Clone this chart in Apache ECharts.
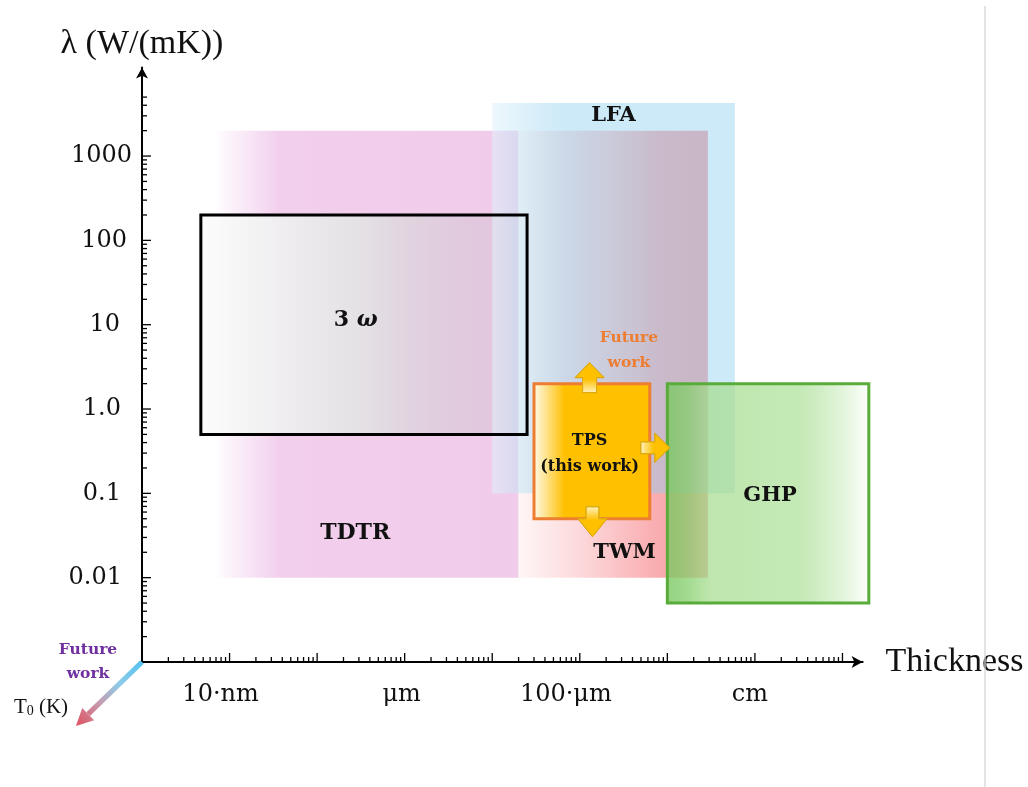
<!DOCTYPE html>
<html><head><meta charset="utf-8">
<script src="https://cdn.jsdelivr.net/npm/echarts@6/dist/echarts.min.js"></script>
<style>html,body{margin:0;padding:0;background:#fff}#c{width:1028px;height:787px}</style>
</head><body><div id="c"></div>
<script>
// ---------- data ----------
const regionNames  = ['TDTR', '3ω', 'TWM', 'LFA', 'GHP', 'TPS'];
const thicknessMin = [6.5e-9, 4.7e-9, 2.0e-5, 1.0e-5, 1.0e-3, 3.0e-5];   // m
const thicknessMax = [2.0e-5, 2.5e-5, 2.9e-3, 5.9e-3, 0.2,    6.3e-4];   // m
const lambdaMin    = [0.01,   0.5,    0.01,   0.1,    0.005,  0.05];     // W/(mK)
const lambdaMax    = [2000,   200,    2000,   4250,   2.0,    2.0];      // W/(mK)

const xTickLabels = {'-8': '10·nm', '-6': 'μm', '-4': '100·μm', '-2': 'cm'};
const yTickLabels = {'3': '1000', '2': '100', '1': '10', '0': '1.0', '-1': '0.1', '-2': '0.01'};

const X_MIN = 1e-9, X_MAX = Math.pow(10, -0.77);
const Y_MIN = 1e-3, Y_MAX = Math.pow(10, 4.05);

// log-scale tick marks (decades and their 2..9 subdivisions)
const tickData = [];
for (let d = -9; d <= -2; d++) {
  for (let k = 1; k <= 9; k++) {
    if (d === -9 && k === 1) continue;
    tickData.push([k * Math.pow(10, d), Y_MIN, k === 1 ? 1 : 0, 0]);
  }
}
tickData.push([1e-1, Y_MIN, 1, 0]);
for (let d = -3; d <= 3; d++) {
  for (let k = 1; k <= 9; k++) {
    if (d === -3 && k === 1) continue;
    if (d === 3 && k > 5) continue;
    tickData.push([X_MIN, k * Math.pow(10, d), k === 1 ? 1 : 0, 1]);
  }
}

// ---------- styles ----------
const G = echarts.graphic.LinearGradient;
const BOLD = 'DejaVu Serif';
const styles = {
  'TDTR': {fill: new G(0,0,1,0,[{offset:0,color:'rgba(242,205,236,0)'},{offset:0.22,color:'rgba(242,207,237,1)'},{offset:1,color:'rgba(241,203,234,1)'}]),
           label: 'TDTR', fx: 0.465, fy: 0.90, size: 22},
  '3ω':   {fill: new G(0,0,1,0,[{offset:0,color:'rgba(252,252,252,0.98)'},{offset:0.5,color:'rgba(226,228,228,0.85)'},{offset:0.89,color:'rgba(200,190,200,0.35)'},{offset:1,color:'rgba(200,190,200,0.3)'}]),
           stroke: '#000', lineWidth: 3, label: '{n|3 }{w|ω}', fx: 0.475, fy: 0.48, size: 22},
  'TWM':  {fill: new G(0,0,1,0,[{offset:0,color:'#fff6f6'},{offset:0.35,color:'#fcd6d9'},{offset:0.75,color:'#f9abae'},{offset:1,color:'#f8a3a6'}]),
           label: 'TWM', fx: 0.56, fy: 0.944, size: 21},
  'LFA':  {fill: new G(0,0,1,0,[{offset:0,color:'rgba(225,243,250,0.55)'},{offset:0.3,color:'rgba(139,206,239,0.43)'},{offset:1,color:'rgba(139,206,239,0.43)'}]),
           label: 'LFA', fx: 0.5, fy: 0.031, size: 21},
  'GHP':  {fill: new G(0,0,1,0,[{offset:0,color:'rgba(120,200,95,0.8)'},{offset:0.1,color:'rgba(130,205,105,0.75)'},{offset:0.22,color:'rgba(165,220,140,0.7)'},{offset:0.65,color:'rgba(170,224,150,0.7)'},{offset:1,color:'rgba(255,255,255,0.95)'}]),
           stroke: '#5aac3a', lineWidth: 3, label: 'GHP', fx: 0.51, fy: 0.51, size: 21},
  'TPS':  {fill: new G(0,0,1,0,[{offset:0,color:'#fffcf0'},{offset:0.1,color:'#ffe69a'},{offset:0.27,color:'#ffc000'},{offset:1,color:'#ffc000'}]),
           stroke: '#ed7d31', lineWidth: 3, label: 'TPS\n(this work)', fx: 0.48, fy: 0.52, size: 16},
};
// draw order: [regionIndex, pass] pass 0 = fill(+stroke), pass 1 = stroke only
const drawOrder = [[0,0],[1,0],[2,0],[3,0],[1,1],[4,0],[5,0]];
const regionData = drawOrder.map(([i, p]) => [thicknessMin[i], thicknessMax[i], lambdaMin[i], lambdaMax[i], i, p]);

function arrowStyle(x, y, x2, y2) {
  return {
    fill: new G(x, y, x2, y2, [{offset:0,color:'#fff3c4'},{offset:0.45,color:'#ffc000'},{offset:1,color:'#ffc000'}]),
    stroke: '#dcaa10', lineWidth: 1
  };
}

function renderRegion(params, api) {
  const i = api.value(4), pass = api.value(5);
  const name = regionNames[i], st = styles[name];
  const p0 = api.coord([api.value(0), api.value(3)]);
  const p1 = api.coord([api.value(1), api.value(2)]);
  const x0 = p0[0], y0 = p0[1], x1 = p1[0], y1 = p1[1];
  const w = x1 - x0, h = y1 - y0;
  const children = [];
  const z = params.dataIndex * 10;
  if (pass === 0) {
    children.push({type: 'rect', z2: z, shape: {x: x0, y: y0, width: w, height: h},
      style: {fill: st.fill, stroke: (name === '3ω') ? null : (st.stroke || null), lineWidth: st.lineWidth || 0}});
  } else {
    children.push({type: 'rect', z2: z, shape: {x: x0, y: y0, width: w, height: h},
      style: {fill: null, stroke: st.stroke, lineWidth: st.lineWidth}});
  }
  if (pass === 0 && name !== '3ω' || pass === 1) {
    const tx = x0 + st.fx * w, ty = y0 + st.fy * h;
    const lt = {type: 'text', z2: 500, x: tx, y: ty, style: {
      text: st.label, fill: '#111', align: 'center', verticalAlign: 'middle',
      fontFamily: BOLD, fontWeight: 'bold', fontSize: st.size, lineHeight: name === 'TPS' ? 26 : st.size + 4,
      rich: {n: {fontFamily: BOLD, fontWeight: 'bold', fontSize: 22, fill: '#111'},
             w: {fontFamily: BOLD, fontWeight: 'bold', fontStyle: 'italic', fontSize: 22, fill: '#111'}}
    }};
    children.push(lt);
  }
  if (name === 'TPS') {
    // arrows to future work directions
    const cxu = x0 + 0.48 * w, cxd = x0 + 0.505 * w, cyr = y0 + 0.475 * h;
    children.push({type: 'polygon', z2: z + 5, shape: {points: [
      [cxu-7, y0+9], [cxu-7, y0-6], [cxu-14.5, y0-6], [cxu, y0-21], [cxu+14.5, y0-6], [cxu+7, y0-6], [cxu+7, y0+9]]},
      style: arrowStyle(0, 1, 0, 0)});
    children.push({type: 'polygon', z2: z + 5, shape: {points: [
      [cxd-6.5, y1-12], [cxd-6.5, y1], [cxd-14.5, y1], [cxd, y1+18], [cxd+14.5, y1], [cxd+6.5, y1], [cxd+6.5, y1-12]]},
      style: arrowStyle(0, 0, 0, 1)});
    children.push({type: 'polygon', z2: z + 5, shape: {points: [
      [x1-9, cyr-6], [x1+5, cyr-6], [x1+5, cyr-14.5], [x1+20, cyr], [x1+5, cyr+14.5], [x1+5, cyr+6], [x1-9, cyr+6]]},
      style: arrowStyle(0, 0, 1, 0)});
    children.push({type: 'text', z2: 500, x: x0 + 0.5 * w + 37, y: y0 - 33, style: {
      text: 'Future\nwork', fill: '#ed7d31', align: 'center', verticalAlign: 'middle',
      fontFamily: BOLD, fontWeight: 'bold', fontSize: 15.5, lineHeight: 25}});
  }
  return {type: 'group', children};
}

function renderTick(params, api) {
  const p = api.coord([api.value(0), api.value(1)]);
  const len = api.value(2) ? 9 : 5;
  const isY = api.value(3);
  const shape = isY ? {x1: p[0], y1: p[1], x2: p[0] + len, y2: p[1]}
                    : {x1: p[0], y1: p[1], x2: p[0], y2: p[1] - len};
  return {type: 'line', shape, style: {stroke: '#000', lineWidth: 1.3}};
}

function lg(v) { return Math.round(Math.log10(v)); }
function isDecade(v) { const l = Math.log10(v); return Math.abs(l - Math.round(l)) < 0.01; }
const xPad = {'-8': 18, '-6': 6, '-4': 28, '-2': 10};
const yPad = {'3': 0, '2': 5, '1': 12, '0': 11, '-1': 11, '-2': 10};
const xRich = {}, yRich = {};
Object.keys(xPad).forEach((k, j) => xRich['x' + j] = {fontFamily: 'DejaVu Serif', fontSize: 24, color: '#111', padding: [0, xPad[k], 0, 0]});
Object.keys(yPad).forEach((k, j) => yRich['y' + j] = {fontFamily: 'DejaVu Serif', fontSize: 24, color: '#111', padding: [0, yPad[k], 0, 0]});

const chart = echarts.init(document.getElementById('c'), null, {renderer: 'canvas'});
chart.setOption({
  animation: false,
  backgroundColor: '#fff',
  grid: {left: 142, top: 67.5, right: 1028 - 862.6, bottom: 125, containLabel: false},
  xAxis: {
    type: 'log', logBase: 10, min: X_MIN, max: X_MAX, splitNumber: 10,
    axisLine: {show: true, symbol: ['none', 'arrow'], symbolSize: [9, 11], lineStyle: {color: '#000', width: 2}},
    axisTick: {show: false}, splitLine: {show: false}, minorTick: {show: false},
    axisLabel: {
      margin: 21, showMinLabel: true, showMaxLabel: true, hideOverlap: false,
      formatter: function (v) {
        if (!isDecade(v)) return '';
        const k = String(lg(v));
        if (!(k in xTickLabels)) return '';
        const j = Object.keys(xPad).indexOf(k);
        return '{x' + j + '|' + xTickLabels[k] + '}';
      },
      rich: xRich
    },
    name: 'Thickness', nameLocation: 'end', nameGap: 23,
    nameTextStyle: {fontFamily: 'Liberation Serif', fontSize: 34, color: '#111', verticalAlign: 'middle'}
  },
  yAxis: {
    type: 'log', logBase: 10, min: Y_MIN, max: Y_MAX, splitNumber: 10,
    axisLine: {show: true, symbol: ['none', 'arrow'], symbolSize: [9, 11], lineStyle: {color: '#000', width: 2}},
    axisTick: {show: false}, splitLine: {show: false}, minorTick: {show: false},
    axisLabel: {
      margin: 10, showMinLabel: true, showMaxLabel: true, hideOverlap: false,
      formatter: function (v) {
        if (!isDecade(v)) return '';
        const k = String(lg(v));
        if (!(k in yTickLabels)) return '';
        const j = Object.keys(yPad).indexOf(k);
        return '{y' + j + '|' + yTickLabels[k] + '}';
      },
      rich: yRich
    },
    name: 'λ (W/(mK))', nameLocation: 'end', nameGap: 6,
    nameTextStyle: {fontFamily: 'Liberation Serif', fontSize: 34, color: '#111', align: 'center'}
  },
  series: [
    {type: 'custom', name: 'regions', data: regionData, encode: {x: [0, 1], y: [2, 3]},
     renderItem: renderRegion, clip: false, z: 1, silent: true},
    {type: 'custom', name: 'ticks', data: tickData, encode: {x: 0, y: 1},
     renderItem: renderTick, clip: false, z: 5, silent: true}
  ]
});

// decorations anchored to the axes origin
const o = chart.convertToPixel({gridIndex: 0}, [X_MIN, Y_MIN]);
const ux = -0.718, uy = 0.696, px = 0.696, py = 0.718;
const L = 92, head = 17, hw = 8.5, sw = 2.6;
const tip = [o[0] + ux * L, o[1] + uy * L];
const hb = [tip[0] - ux * head, tip[1] - uy * head];
const grad = new G(o[0], o[1], tip[0], tip[1], [{offset: 0, color: '#55c3f0'}, {offset: 0.35, color: '#8fcbe8'}, {offset: 0.65, color: '#c79aae'}, {offset: 1, color: '#e0505e'}], true);
chart.setOption({
  graphic: [
    {type: 'polygon', z: 10, shape: {points: [
      [o[0] + px * sw, o[1] + py * sw], [o[0] - px * sw, o[1] - py * sw],
      [hb[0] - px * sw, hb[1] - py * sw], [hb[0] + px * sw, hb[1] + py * sw]]}, style: {fill: grad}},
    {type: 'polygon', z: 10, shape: {points: [
      [hb[0] + px * hw, hb[1] + py * hw], [tip[0], tip[1]], [hb[0] - px * hw, hb[1] - py * hw]]}, style: {fill: grad}},
    {type: 'text', z: 10, x: o[0] - 54, y: o[1], style: {text: 'Future\nwork', fill: '#7030a0', align: 'center', verticalAlign: 'middle',
      fontFamily: 'DejaVu Serif', fontWeight: 'bold', fontSize: 15.5, lineHeight: 24}},
    {type: 'text', z: 10, x: o[0] - 101, y: o[1] + 45, style: {text: '{t|T}{s|0}{t| (K)}', align: 'center', verticalAlign: 'middle',
      rich: {t: {fontFamily: 'Liberation Serif', fontSize: 21, fill: '#111'}, s: {fontFamily: 'Liberation Serif', fontSize: 14, fill: '#111', padding: [8, 0, 0, 0]}}}},
    {type: 'line', z: 10, shape: {x1: 985, y1: 6, x2: 985, y2: 787}, style: {stroke: '#d4d4d4', lineWidth: 1.3}}
  ]
});
</script>
</body></html>
